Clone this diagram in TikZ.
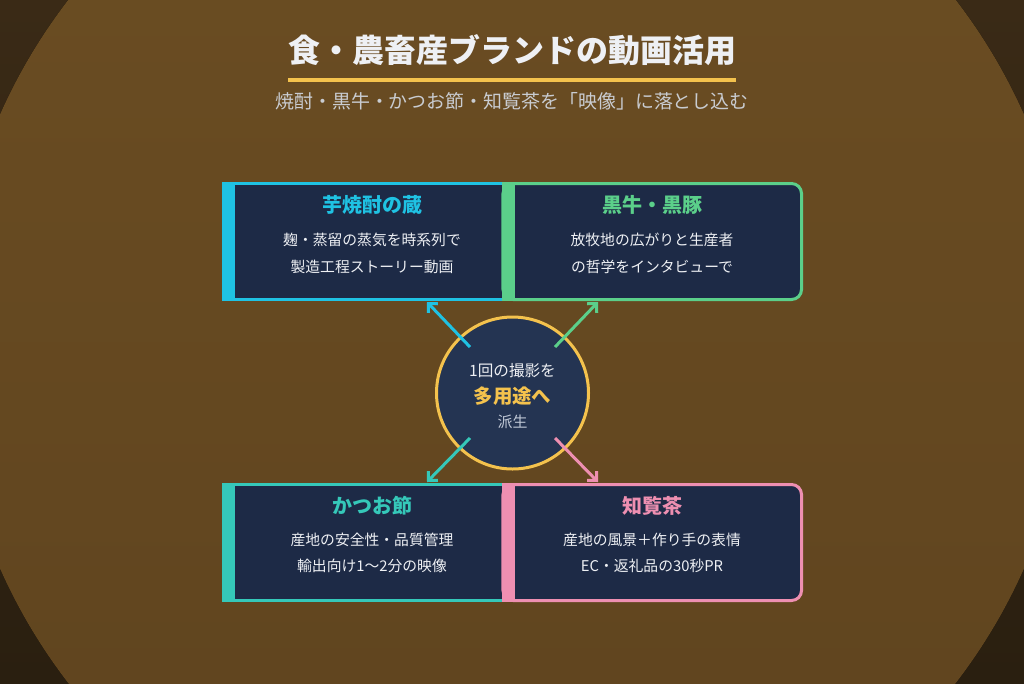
\documentclass[tikz,border=0pt]{standalone}
\usepackage{fontspec}
\setmainfont{Noto Sans CJK JP}
\usetikzlibrary{arrows.meta}

\definecolor{bgdarktop}{HTML}{2A1F10}
\definecolor{bgdarkbot}{HTML}{3A2A16}
\definecolor{bgtop}{HTML}{5E431E}
\definecolor{bgbot}{HTML}{6C4E23}
\definecolor{cardbg}{HTML}{1D2A46}
\definecolor{hubbg}{HTML}{243452}
\definecolor{accent}{HTML}{F4C24D}
\definecolor{kcyan}{HTML}{1FC2E3}
\definecolor{kgreen}{HTML}{5BCF8A}
\definecolor{kteal}{HTML}{35C8B9}
\definecolor{kpink}{HTML}{EE8FB1}
\definecolor{paper}{HTML}{EEF0F4}
\definecolor{subgray}{HTML}{C9CCD1}
\definecolor{hubgray}{HTML}{C0C8D6}

\tikzset{every picture/.style={line width=0.75pt}}
\tikzset{
	card/.style={fill=cardbg, line width=2.25pt, inner sep=0pt, minimum height=87pt},
	cardtitle/.style={font=\fontsize{15}{18}\selectfont\bfseries},
	cardtext/.style={text=paper, font=\fontsize{11.1}{14}\selectfont},
	link/.style={line width=2.25pt, -{Straight Barb[length=5pt,width=10pt]}}}

\begin{document}
\begin{tikzpicture}[x=0.75pt,y=0.75pt,yscale=-1,xscale=1]
	\useasboundingbox (0,0) rectangle (1024,683);
	\begin{scope}
	\clip (0,0) rectangle (1024,683);
	%Shape: Background
	\fill [top color=bgdarkbot, bottom color=bgdarktop] (0,0) rectangle (1024,683);
	%Shape: Circle
	\fill [top color=bgbot, bottom color=bgtop] (512,341.5) circle (560);
	\end{scope}

	% Title
	\node [text=paper, font=\fontsize{24}{28}\selectfont\bfseries] (title) at (512,50) {食・農畜産ブランドの動画活用};
	%Straight Lines
	\draw [accent, line width=3pt] (288,80) -- (736,80);
	\node [text=subgray, font=\fontsize{14.2}{17}\selectfont] (subtitle) at (512,101) {焼酎・黒牛・かつお節・知覧茶を「映像」に落とし込む};

	%Shape: Cards
	\node [card, draw=kcyan, minimum width=214.5pt] (kura) at (366.25,241.5) {};
	\fill [kcyan] (222,182) rectangle (235,301);
	\node [card, draw=kgreen, rounded corners=7.5pt, minimum width=223.9pt] (kuro) at (652.25,241.5) {};
	\fill [kgreen] (501.5,182) rectangle (515,301);
	\node [card, draw=kteal, minimum width=214.5pt] (katsuo) at (366.25,542.5) {};
	\fill [kteal] (222,483) rectangle (235,602);
	\node [card, draw=kpink, rounded corners=7.5pt, minimum width=223.9pt] (chiran) at (652.25,542.5) {};
	\fill [kpink] (501.5,483) rectangle (515,602);

	%Shape: Hub
	\node [circle, draw=accent, fill=hubbg, line width=2.25pt, minimum size=114pt, inner sep=0pt] (hub) at (512.5,393) {};

	%Straight Lines: links
	\coordinate (hub-nw) at (470,347);
	\coordinate (hub-ne) at (555,347);
	\coordinate (hub-sw) at (470,438);
	\coordinate (hub-se) at (555,438);
	\coordinate (kura-in) at (427,302);
	\coordinate (kuro-in) at (598,302);
	\coordinate (katsuo-in) at (427,482);
	\coordinate (chiran-in) at (598,482);
	\draw [link, kcyan] (hub-nw) -- (kura-in);
	\draw [link, kgreen] (hub-ne) -- (kuro-in);
	\draw [link, kteal] (hub-sw) -- (katsuo-in);
	\draw [link, kpink] (hub-se) -- (chiran-in);

	% Text Node
	\node [text=paper, font=\fontsize{11.7}{14}\selectfont] (hub-top) at (512.5,371) {1回の撮影を};
	\node [text=accent, font=\fontsize{14.6}{17}\selectfont\bfseries] (hub-mid) at (512.5,396) {多用途へ};
	\node [text=hubgray, font=\fontsize{11.2}{14}\selectfont] (hub-bot) at (512.5,422) {派生};

	% Text Node
	\node [cardtitle, text=kcyan] (kura-title) at (372,205) {芋焼酎の蔵};
	\node [cardtext] (kura-a) at (372,240) {麹・蒸留の蒸気を時系列で};
	\node [cardtext] (kura-b) at (372,267) {製造工程ストーリー動画};
	% Text Node
	\node [cardtitle, text=kgreen] (kuro-title) at (652,205) {黒牛・黒豚};
	\node [cardtext] (kuro-a) at (652,240) {放牧地の広がりと生産者};
	\node [cardtext] (kuro-b) at (652,267) {の哲学をインタビューで};
	% Text Node
	\node [cardtitle, text=kteal] (katsuo-title) at (372,506) {かつお節};
	\node [cardtext] (katsuo-a) at (372,540) {産地の安全性・品質管理};
	\node [cardtext] (katsuo-b) at (372,566) {輸出向け1〜2分の映像};
	% Text Node
	\node [cardtitle, text=kpink] (chiran-title) at (652,506) {知覧茶};
	\node [cardtext] (chiran-a) at (652,540) {産地の風景＋作り手の表情};
	\node [cardtext] (chiran-b) at (652,566) {EC・返礼品の30秒PR};

\end{tikzpicture}
\end{document}
